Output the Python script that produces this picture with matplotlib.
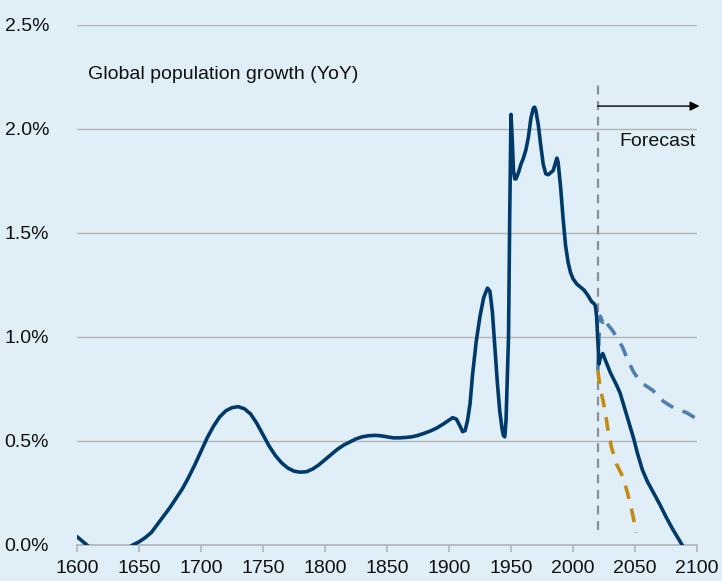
import matplotlib
matplotlib.use("Agg")
import matplotlib.pyplot as plt
from matplotlib.ticker import FuncFormatter

# main series (global population growth, % YoY)
years = [1600, 1605, 1610, 1620, 1630, 1640, 1645, 1650, 1655, 1660, 1665, 1670, 1675,
         1680, 1685, 1690, 1695, 1700, 1705, 1710, 1715, 1720, 1725, 1730, 1735, 1740,
         1745, 1750, 1755, 1760, 1765, 1770, 1775, 1780, 1785, 1790, 1795, 1800, 1805,
         1810, 1815, 1820, 1825, 1830, 1835, 1840, 1845, 1850, 1855, 1860, 1865, 1870,
         1875, 1880, 1885, 1890, 1895, 1900, 1903, 1906, 1909, 1911, 1913, 1915, 1917,
         1919, 1922, 1925, 1928, 1931, 1933, 1935, 1937, 1939, 1941, 1943, 1944, 1945,
         1946, 1948, 1949, 1950, 1951, 1952, 1953, 1954, 1956, 1958, 1960, 1962, 1964,
         1966, 1968, 1969, 1970, 1972, 1974, 1976, 1978, 1980, 1982, 1984, 1986, 1987,
         1988, 1990, 1992, 1994, 1996, 1998, 2000, 2003, 2006, 2009, 2012, 2015, 2017,
         2018, 2019, 2020, 2021, 2022, 2024, 2026, 2028, 2030, 2035, 2038, 2042, 2046,
         2049, 2052, 2056, 2060, 2065, 2070, 2075, 2080, 2085, 2090]
growth = [0.04, 0.015, -0.01, -0.04, -0.04, -0.02, 0.0, 0.015, 0.035, 0.06, 0.10, 0.14, 0.18,
          0.225, 0.27, 0.325, 0.385, 0.45, 0.515, 0.57, 0.615, 0.645, 0.66, 0.665, 0.655, 0.63,
          0.585, 0.53, 0.475, 0.43, 0.395, 0.37, 0.355, 0.35, 0.352, 0.365, 0.385, 0.41, 0.435,
          0.46, 0.48, 0.495, 0.51, 0.52, 0.525, 0.527, 0.525, 0.52, 0.515, 0.515, 0.517, 0.52,
          0.527, 0.537, 0.548, 0.562, 0.58, 0.60, 0.612, 0.605, 0.57, 0.545, 0.55, 0.60, 0.68,
          0.82, 0.98, 1.10, 1.19, 1.235, 1.22, 1.12, 0.95, 0.78, 0.64, 0.55, 0.525, 0.52,
          0.60, 1.00, 1.60, 2.07, 1.95, 1.80, 1.76, 1.76, 1.79, 1.83, 1.86, 1.90, 1.96,
          2.05, 2.10, 2.105, 2.09, 2.02, 1.92, 1.83, 1.785, 1.78, 1.79, 1.80, 1.84, 1.86,
          1.84, 1.72, 1.57, 1.44, 1.36, 1.31, 1.28, 1.255, 1.24, 1.225, 1.20, 1.17, 1.16,
          1.15, 1.10, 0.98, 0.87, 0.90, 0.92, 0.89, 0.86, 0.83, 0.77, 0.73, 0.65, 0.57,
          0.51, 0.44, 0.36, 0.305, 0.25, 0.195, 0.135, 0.08, 0.03, -0.02]

# high scenario
hi_years = [2020, 2021, 2022, 2024, 2026, 2028, 2032, 2036, 2040, 2044, 2049, 2055, 2064,
            2073, 2081, 2092, 2100]
hi_growth = [0.84, 1.00, 1.10, 1.07, 1.09, 1.06, 1.03, 0.99, 0.95, 0.89, 0.83, 0.78, 0.745,
             0.69, 0.66, 0.635, 0.605]

# low scenario
lo_years = [2020, 2022, 2024, 2026, 2028, 2031, 2035, 2040, 2044, 2048, 2051]
lo_growth = [0.84, 0.75, 0.70, 0.64, 0.56, 0.47, 0.39, 0.33, 0.25, 0.15, 0.06]

x_ticks = list(range(1600, 2101, 50))
y_ticks = [0.0, 0.5, 1.0, 1.5, 2.0, 2.5]
forecast_start = 2020

bg = "#dfeef7"
txt = "#111111"
plt.rcParams["font.family"] = ["Liberation Sans", "DejaVu Sans"]

fig = plt.figure(figsize=(7.22, 5.81), dpi=100, facecolor=bg)
ax = fig.add_axes([0.1066, 0.062, 0.8588, 0.895], facecolor=bg)

ax.plot(years, growth, color="#003a6b", lw=2.6, solid_capstyle="round",
        solid_joinstyle="round", zorder=4)
ax.plot(hi_years, hi_growth, color="#4f7fb0", lw=2.6, dashes=(3.8, 2.8), zorder=3)
ax.plot(lo_years, lo_growth, color="#c48a12", lw=2.6, dashes=(3.8, 2.8), zorder=3)
ax.plot([forecast_start, forecast_start], [0.07, 2.24], color="#8b8e94", lw=1.6,
        dashes=(4, 3), zorder=2)

ax.annotate("", xy=(2102, 2.11), xytext=(forecast_start, 2.11),
            arrowprops=dict(arrowstyle="-|>", color="black", lw=1.0,
                            mutation_scale=14, shrinkA=0, shrinkB=0),
            annotation_clip=False)
ax.text(2099, 1.94, "Forecast", fontsize=14, ha="right", va="center", color=txt)
ax.text(1609, 2.26, "Global population growth (YoY)", fontsize=14, ha="left",
        va="center", color=txt)

ax.set_xlim(1600, 2100)
ax.set_ylim(0, 2.5)
ax.set_xticks(x_ticks)
ax.set_yticks(y_ticks)
ax.yaxis.set_major_formatter(FuncFormatter(lambda v, p: f"{v:.1f}%"))
ax.grid(axis="y", color="#b4b4b4", lw=1.0)
ax.set_axisbelow(True)

for s in ["top", "right", "left"]:
    ax.spines[s].set_visible(False)
ax.spines["bottom"].set_color("#b4b4b4")
ax.spines["bottom"].set_linewidth(1.2)
ax.tick_params(axis="x", direction="out", length=5, width=1.2, color="#b4b4b4",
               labelsize=14, labelcolor=txt, pad=6)
ax.tick_params(axis="y", length=0, labelsize=14, labelcolor=txt, pad=20)

fig.savefig("out.png", dpi=100, facecolor=bg)
